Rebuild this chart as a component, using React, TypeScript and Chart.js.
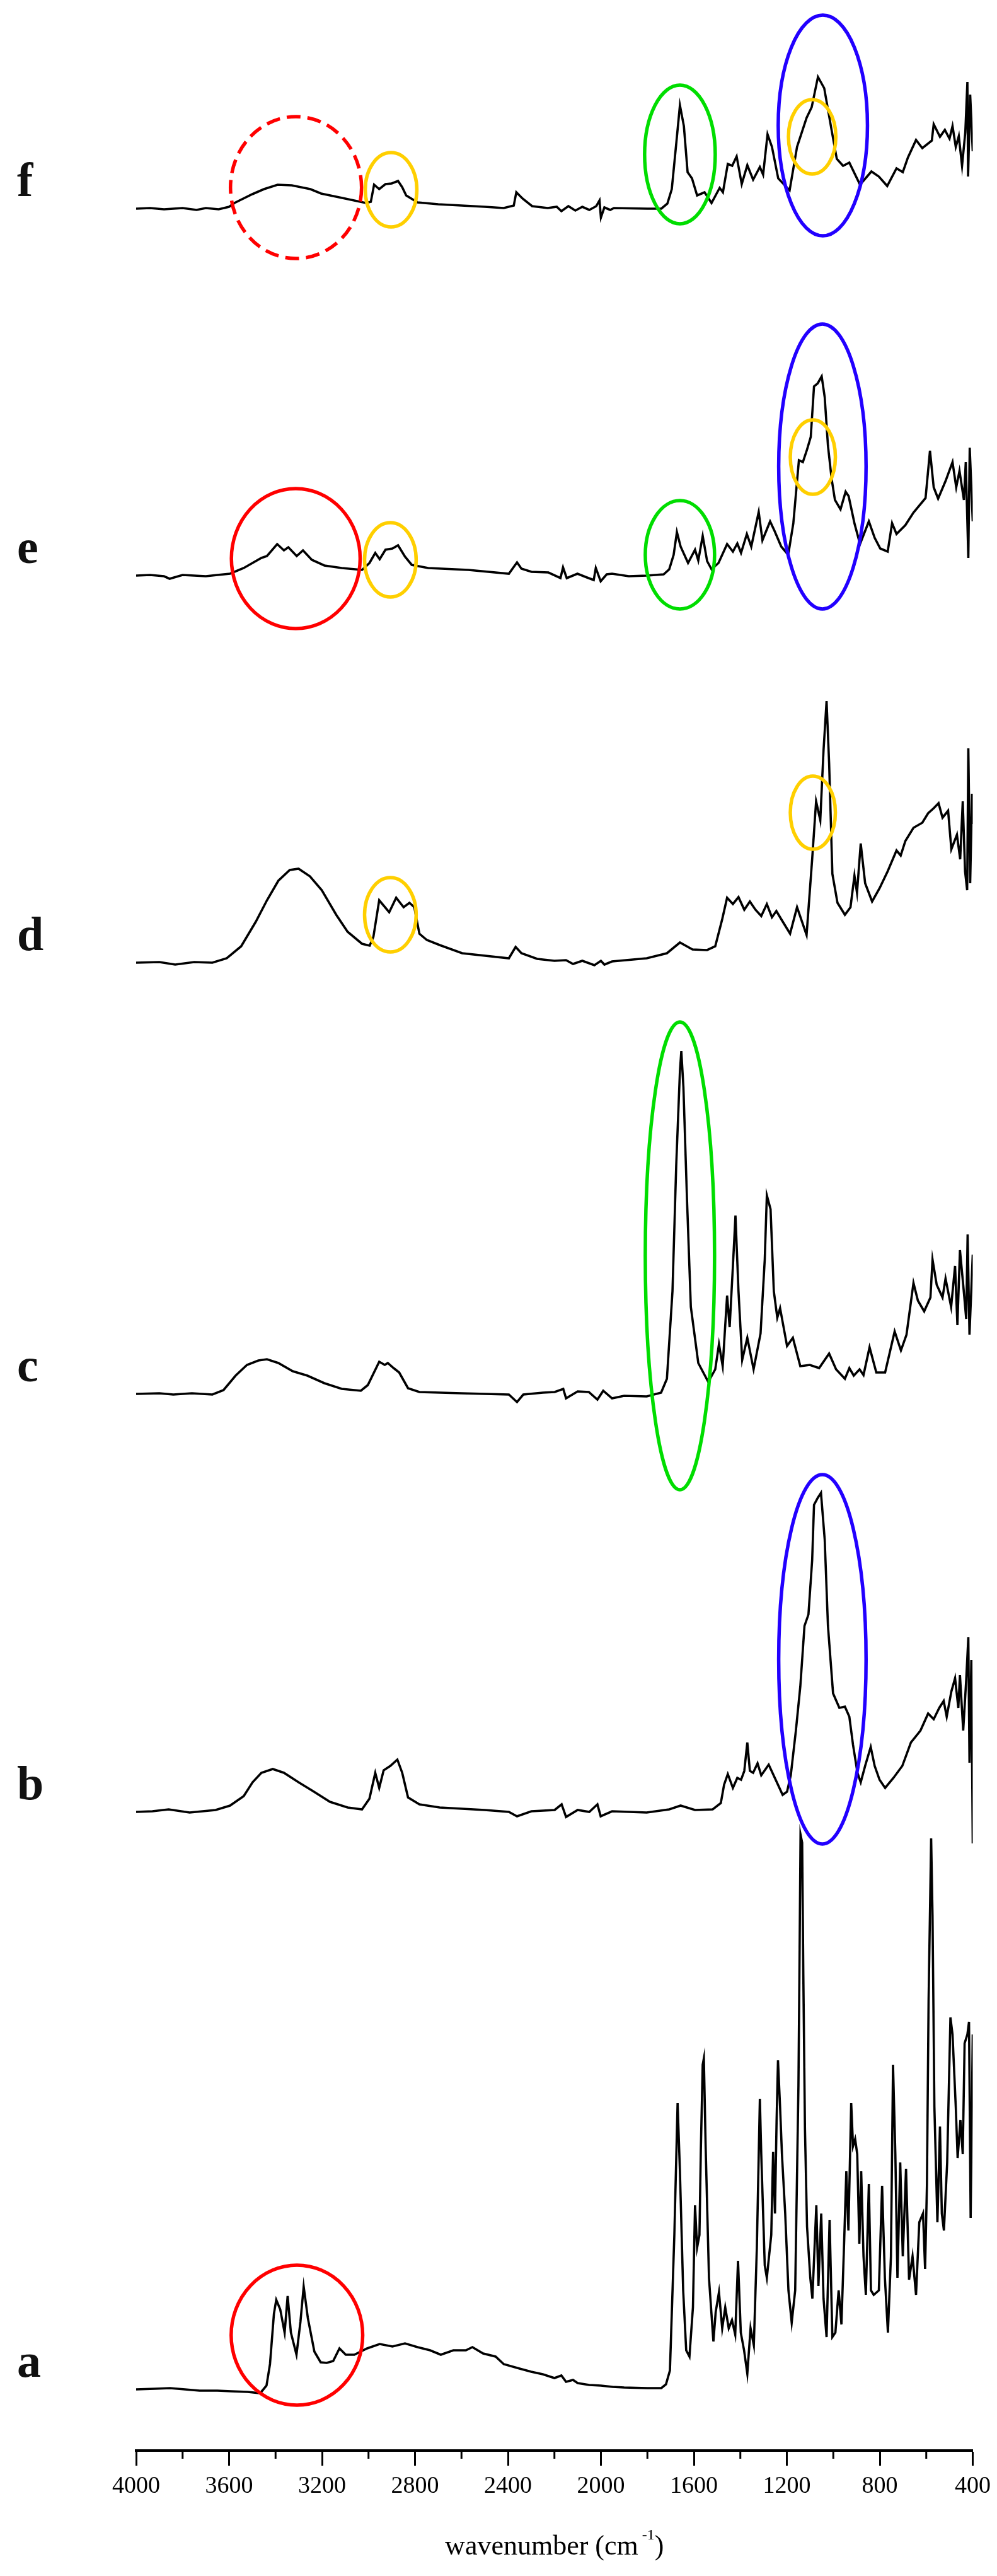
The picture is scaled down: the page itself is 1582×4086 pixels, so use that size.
import React, { useEffect, useRef } from 'react';
import { Chart, registerables } from 'chart.js';

Chart.register(...registerables);

const WIDTH = 1582;
const HEIGHT = 4086;

// ---- axis ----
const X_MIN = 400;
const X_MAX = 4000;
const X_STEP = 400;
const MINOR_TICKS = [3800, 3400, 3000, 2600, 2200, 1800, 1400, 1000, 600];
const X_TITLE_MAIN = 'wavenumber (cm';
const X_TITLE_SUP = '-1';
const X_TITLE_END = ')';
const Y_MAX = 38.87;

// ---- series (wavenumber, relative intensity) ----
const SERIES_LABELS = ['a', 'b', 'c', 'd', 'e', 'f'];
const SERIES_OFFSETS = [0.97, 10.13, 16.76, 23.6, 29.74, 35.56];
const LABEL_LIFT = 0.2;

const SPECTRUM_A: [number, number][] = [
  [4000, 0], [3920, 0.01], [3854, 0.02], [3790, 0], [3727, -0.02], [3650, -0.02], [3591, -0.03], [3520, -0.04],
  [3466, -0.06], [3439, 0.06], [3424, 0.4], [3407, 1.2], [3397, 1.42], [3380, 1.27], [3361, 0.9], [3348, 1.48],
  [3334, 0.9], [3310, 0.55], [3293, 1.07], [3279, 1.63], [3261, 1.13], [3233, 0.6], [3206, 0.43], [3180, 0.42],
  [3152, 0.45], [3125, 0.65], [3098, 0.55], [3061, 0.55], [3006, 0.65], [2952, 0.72], [2897, 0.68], [2843, 0.73],
  [2789, 0.67], [2735, 0.62], [2689, 0.55], [2635, 0.62], [2581, 0.62], [2553, 0.67], [2507, 0.57], [2453, 0.52],
  [2418, 0.4], [2350, 0.33], [2300, 0.28], [2250, 0.24], [2200, 0.18], [2170, 0.22], [2150, 0.12], [2120, 0.15],
  [2100, 0.1], [2050, 0.07], [2000, 0.06], [1950, 0.04], [1900, 0.03], [1800, 0.02], [1740, 0.02], [1720, 0.08],
  [1703, 0.3], [1684, 2.45], [1674, 3.94], [1670, 4.54], [1660, 3.46], [1646, 1.57], [1633, 0.62], [1619, 0.52],
  [1604, 1.3], [1595, 2.92], [1586, 2.25], [1576, 2.45], [1570, 3.8], [1562, 5.15], [1557, 5.25], [1549, 3.8],
  [1535, 1.77], [1516, 0.76], [1506, 1.23], [1492, 1.54], [1478, 0.97], [1465, 1.3], [1450, 0.97], [1436, 1.1],
  [1422, 0.87], [1410, 2.04], [1398, 0.9], [1384, 0.62], [1370, 0.25], [1356, 0.97], [1342, 0.7], [1329, 2.25],
  [1316, 4.61], [1310, 3.73], [1295, 1.97], [1286, 1.77], [1267, 2.45], [1259, 3.77], [1251, 2.79], [1244, 4.27],
  [1238, 5.22], [1229, 4.48], [1221, 3.73], [1207, 2.79], [1193, 1.57], [1179, 1.06], [1164, 1.57], [1150, 4.82],
  [1146, 6.51], [1141, 8.8], [1134, 8.67], [1129, 6.57], [1122, 4.14], [1113, 2.58], [1099, 1.77], [1090, 1.44],
  [1073, 2.92], [1064, 1.64], [1052, 2.79], [1042, 1.44], [1029, 0.83], [1016, 2.69], [1004, 0.83], [991, 0.9],
  [977, 1.57], [965, 1.03], [953, 2.38], [944, 3.46], [935, 2.52], [923, 4.54], [915, 3.86], [906, 3.97],
  [897, 3.73], [888, 2.31], [880, 3.46], [870, 2.11], [860, 1.5], [847, 3.26], [838, 1.57], [826, 1.5],
  [804, 1.57], [790, 3.23], [778, 1.77], [765, 0.9], [752, 2.11], [743, 5.15], [733, 3.73], [724, 1.77],
  [712, 3.6], [701, 2.11], [687, 3.5], [674, 1.74], [659, 2.11], [644, 1.5], [630, 2.65], [614, 2.79],
  [605, 1.91], [597, 3.26], [590, 6.17], [579, 8.74], [573, 7.52], [565, 4.48], [552, 2.65], [541, 4.17],
  [533, 2.79], [524, 2.52], [510, 3.6], [496, 5.9], [487, 5.63], [473, 4.48], [465, 3.67], [453, 4.27],
  [443, 3.73], [435, 5.49], [423, 5.63], [416, 5.83], [409, 2.72], [400, 5.63],
];

const SPECTRUM_B: [number, number][] = [
  [4000, 0], [3930, 0.01], [3860, 0.04], [3770, -0.01], [3658, 0.03], [3596, 0.1], [3537, 0.25], [3499, 0.47],
  [3461, 0.62], [3412, 0.68], [3364, 0.62], [3301, 0.47], [3239, 0.33], [3166, 0.16], [3090, 0.07], [3028, 0.04],
  [2996, 0.21], [2971, 0.62], [2954, 0.38], [2935, 0.66], [2906, 0.73], [2876, 0.83], [2855, 0.62], [2830, 0.23],
  [2781, 0.12], [2694, 0.07], [2500, 0.03], [2396, 0], [2361, -0.07], [2299, 0.01], [2199, 0.03], [2169, 0.12],
  [2150, -0.08], [2100, 0.03], [2050, 0], [2015, 0.12], [2001, -0.07], [1952, 0.01], [1803, -0.01], [1706, 0.04],
  [1657, 0.1], [1595, 0.03], [1519, 0.04], [1484, 0.14], [1470, 0.43], [1454, 0.6], [1432, 0.38], [1413, 0.54],
  [1397, 0.51], [1383, 0.65], [1370, 1.1], [1359, 0.65], [1345, 0.62], [1326, 0.77], [1310, 0.58], [1278, 0.75],
  [1248, 0.51], [1218, 0.27], [1199, 0.32], [1183, 0.58], [1161, 1.29], [1142, 1.99], [1124, 2.95], [1107, 3.13],
  [1091, 3.99], [1083, 4.87], [1067, 4.98], [1053, 5.06], [1037, 4.32], [1023, 2.95], [1001, 1.88], [974, 1.65],
  [950, 1.67], [931, 1.51], [915, 1.06], [896, 0.62], [882, 0.47], [863, 0.73], [839, 1.03], [822, 0.73],
  [801, 0.51], [777, 0.38], [741, 0.54], [703, 0.73], [666, 1.1], [625, 1.29], [592, 1.56], [568, 1.47],
  [544, 1.65], [525, 1.76], [512, 1.51], [492, 1.91], [476, 2.12], [462, 1.65], [455, 2.17], [441, 1.29],
  [428, 2.1], [419, 2.77], [414, 0.78], [406, 2.41], [400, -0.5],
];

const SPECTRUM_C: [number, number][] = [
  [4000, 0], [3900, 0.01], [3840, -0.01], [3760, 0.01], [3672, -0.01], [3624, 0.06], [3572, 0.29], [3523, 0.46],
  [3474, 0.53], [3437, 0.55], [3388, 0.49], [3326, 0.36], [3263, 0.29], [3190, 0.17], [3115, 0.08], [3033, 0.05],
  [3003, 0.14], [2954, 0.51], [2930, 0.46], [2917, 0.49], [2892, 0.41], [2868, 0.34], [2830, 0.09], [2781, 0.03],
  [2600, 0.01], [2396, -0.01], [2361, -0.13], [2334, -0.01], [2250, 0.02], [2199, 0.03], [2162, 0.08], [2150, -0.07],
  [2100, 0.04], [2052, 0.03], [2015, -0.09], [1990, 0.05], [1952, -0.07], [1900, -0.03], [1803, -0.04], [1741, 0.02],
  [1716, 0.24], [1692, 1.63], [1676, 3.62], [1660, 5.12], [1654, 5.44], [1645, 4.87], [1630, 3.13], [1613, 1.38],
  [1581, 0.49], [1538, 0.19], [1508, 0.39], [1492, 0.79], [1476, 0.44], [1457, 1.56], [1446, 1.06], [1432, 2.03],
  [1421, 2.83], [1408, 1.63], [1392, 0.54], [1370, 0.89], [1343, 0.39], [1313, 0.96], [1295, 2.13], [1286, 3.15],
  [1270, 2.93], [1256, 1.63], [1241, 1.21], [1229, 1.36], [1199, 0.76], [1174, 0.89], [1142, 0.44], [1101, 0.46],
  [1061, 0.41], [1018, 0.64], [988, 0.39], [950, 0.24], [931, 0.41], [912, 0.29], [887, 0.39], [870, 0.3],
  [844, 0.74], [815, 0.34], [777, 0.34], [736, 0.99], [709, 0.69], [685, 0.94], [655, 1.76], [636, 1.48],
  [609, 1.31], [582, 1.53], [573, 2.13], [555, 1.73], [530, 1.53], [517, 1.83], [493, 1.38], [476, 2.03],
  [466, 1.09], [455, 2.28], [441, 1.73], [428, 1.19], [422, 2.53], [414, 0.94], [400, 2.21],
];

const SPECTRUM_D: [number, number][] = [
  [4000, 0], [3900, 0.01], [3832, -0.03], [3750, 0.01], [3672, 0], [3610, 0.07], [3548, 0.26], [3485, 0.65],
  [3437, 0.99], [3388, 1.3], [3339, 1.47], [3301, 1.49], [3252, 1.37], [3201, 1.15], [3139, 0.76], [3090, 0.49],
  [3028, 0.3], [2995, 0.27], [2979, 0.41], [2954, 0.99], [2911, 0.8], [2881, 1.03], [2849, 0.88], [2824, 0.95],
  [2803, 0.88], [2781, 0.46], [2749, 0.36], [2694, 0.28], [2597, 0.15], [2396, 0.07], [2367, 0.25], [2342, 0.15],
  [2274, 0.06], [2200, 0.03], [2150, 0.04], [2120, -0.02], [2080, 0.03], [2050, -0.01], [2028, -0.04], [2000, 0.03],
  [1985, -0.03], [1952, 0.02], [1803, 0.07], [1716, 0.15], [1660, 0.32], [1606, 0.21], [1543, 0.2], [1508, 0.26],
  [1478, 0.69], [1457, 1.03], [1432, 0.93], [1408, 1.04], [1383, 0.84], [1359, 0.97], [1335, 0.84], [1310, 0.74],
  [1286, 0.93], [1264, 0.72], [1245, 0.82], [1224, 0.69], [1186, 0.46], [1156, 0.88], [1115, 0.44], [1091, 1.64],
  [1074, 2.56], [1056, 2.26], [1042, 3.37], [1029, 4.15], [1018, 3.17], [1004, 1.41], [982, 0.95], [950, 0.76],
  [926, 0.88], [909, 1.38], [898, 1.11], [882, 1.89], [863, 1.26], [833, 0.97], [801, 1.18], [766, 1.45],
  [728, 1.78], [710, 1.7], [690, 1.93], [655, 2.14], [617, 2.22], [592, 2.37], [568, 2.45], [547, 2.53],
  [530, 2.3], [506, 2.41], [492, 1.8], [468, 2.03], [454, 1.64], [443, 2.56], [433, 1.45], [424, 1.15],
  [419, 3.4], [411, 1.26], [403, 2.68], [400, 2.2],
];

const SPECTRUM_E: [number, number][] = [
  [4000, 0], [3940, 0.01], [3880, -0.01], [3856, -0.05], [3800, 0.01], [3700, -0.01], [3650, 0.01], [3596, 0.03],
  [3537, 0.12], [3461, 0.28], [3437, 0.31], [3393, 0.5], [3364, 0.4], [3345, 0.45], [3309, 0.31], [3282, 0.4],
  [3244, 0.25], [3190, 0.16], [3115, 0.12], [3028, 0.09], [2996, 0.2], [2971, 0.36], [2952, 0.26], [2927, 0.41],
  [2897, 0.43], [2873, 0.48], [2843, 0.3], [2814, 0.17], [2743, 0.12], [2570, 0.09], [2396, 0.03], [2361, 0.21],
  [2342, 0.11], [2299, 0.06], [2226, 0.05], [2174, -0.04], [2163, 0.13], [2147, -0.04], [2101, 0.03], [2060, -0.03],
  [2031, -0.07], [2022, 0.12], [2001, -0.09], [1975, 0.02], [1952, 0.03], [1880, -0.01], [1803, 0], [1730, 0.02],
  [1706, 0.1], [1687, 0.33], [1673, 0.69], [1657, 0.46], [1625, 0.2], [1595, 0.41], [1581, 0.24], [1562, 0.63],
  [1543, 0.23], [1524, 0.1], [1494, 0.2], [1457, 0.5], [1432, 0.38], [1413, 0.51], [1397, 0.36], [1372, 0.66],
  [1353, 0.46], [1321, 1.01], [1305, 0.56], [1272, 0.86], [1253, 0.71], [1224, 0.46], [1194, 0.33], [1172, 0.83],
  [1148, 1.83], [1131, 1.8], [1113, 2.0], [1097, 2.2], [1083, 3.0], [1067, 3.05], [1050, 3.16], [1037, 2.83],
  [1023, 2.06], [1007, 1.53], [993, 1.2], [969, 1.05], [947, 1.33], [934, 1.26], [909, 0.83], [885, 0.5],
  [847, 0.86], [822, 0.6], [798, 0.43], [766, 0.38], [747, 0.83], [728, 0.66], [690, 0.8], [655, 1.0],
  [603, 1.23], [584, 1.98], [568, 1.4], [549, 1.22], [517, 1.5], [487, 1.8], [471, 1.4], [457, 1.66],
  [438, 1.2], [430, 1.8], [419, 0.28], [413, 2.03], [400, 0.86],
];

const SPECTRUM_F: [number, number][] = [
  [4000, 0], [3940, 0.01], [3880, -0.01], [3800, 0.01], [3740, -0.02], [3700, 0.01], [3645, -0.01], [3600, 0.03],
  [3577, 0.09], [3500, 0.23], [3450, 0.31], [3391, 0.38], [3330, 0.37], [3250, 0.31], [3204, 0.24], [3100, 0.16],
  [3011, 0.09], [2990, 0.11], [2976, 0.38], [2954, 0.31], [2927, 0.39], [2900, 0.4], [2873, 0.44], [2855, 0.34],
  [2838, 0.21], [2789, 0.1], [2700, 0.07], [2500, 0.03], [2418, 0.01], [2375, 0.05], [2364, 0.26], [2337, 0.16],
  [2296, 0.04], [2229, 0.01], [2190, 0.03], [2170, -0.04], [2140, 0.04], [2110, -0.03], [2080, 0.03], [2050, -0.02],
  [2020, 0.04], [2006, 0.13], [2000, -0.14], [1985, 0.02], [1960, -0.02], [1944, 0.01], [1800, 0], [1740, 0],
  [1714, 0.08], [1695, 0.31], [1673, 1.14], [1660, 1.64], [1643, 1.31], [1627, 0.58], [1608, 0.48], [1586, 0.21],
  [1554, 0.26], [1524, 0.09], [1489, 0.33], [1475, 0.26], [1454, 0.71], [1435, 0.68], [1416, 0.83], [1394, 0.39],
  [1370, 0.69], [1345, 0.46], [1316, 0.66], [1302, 0.54], [1283, 1.18], [1264, 0.98], [1237, 0.48], [1188, 0.29],
  [1156, 0.98], [1115, 1.44], [1093, 1.61], [1066, 2.09], [1039, 1.91], [1007, 1.24], [985, 0.79], [958, 0.68],
  [931, 0.73], [885, 0.38], [836, 0.59], [804, 0.51], [768, 0.36], [728, 0.64], [701, 0.58], [679, 0.81],
  [644, 1.09], [617, 0.96], [576, 1.08], [568, 1.34], [541, 1.14], [520, 1.25], [500, 1.11], [487, 1.31],
  [473, 0.98], [460, 1.15], [446, 0.68], [432, 1.21], [423, 2.01], [420, 0.51], [411, 1.81], [400, 0.91],
];

const SPECTRA = [SPECTRUM_A, SPECTRUM_B, SPECTRUM_C, SPECTRUM_D, SPECTRUM_E, SPECTRUM_F];

// ---- highlight ellipses (series, centre wavenumber, centre intensity, radii) ----
const RED = '#ff0000';
const YELLOW = '#ffcf00';
const GREEN = '#00dd00';
const BLUE = '#2200ff';

const ELLIPSE_SERIES = ['f', 'f', 'f', 'f', 'f', 'e', 'e', 'e', 'e', 'e', 'd', 'd', 'c', 'b', 'a'];
const ELLIPSE_WN = [3312, 2903, 1660, 1045, 1091, 3313, 2906, 1660, 1047, 1088, 2906, 1088, 1660, 1047, 3308];
const ELLIPSE_VAL = [0.335, 0.3, 0.86, 1.32, 1.14, 0.27, 0.25, 0.33, 1.73, 1.88, 0.76, 2.38, 2.19, 2.42, 0.86];
const ELLIPSE_RX = [282, 111, 152, 192, 102, 277, 111, 149, 188, 97, 111, 97, 149, 188, 283];
const ELLIPSE_RY = [1.125, 0.59, 1.1, 1.75, 0.59, 1.11, 0.59, 0.86, 2.26, 0.59, 0.59, 0.58, 3.71, 2.93, 1.11];
const ELLIPSE_COLOR = [RED, YELLOW, GREEN, BLUE, YELLOW, RED, YELLOW, GREEN, BLUE, YELLOW, YELLOW, YELLOW, GREEN, BLUE, RED];
const ELLIPSE_DASHED = [true, false, false, false, false, false, false, false, false, false, false, false, false, false, false];

const SERIF = '"Liberation Serif", "Times New Roman", serif';

const overlayPlugin = {
  id: 'ftirOverlay',
  afterDatasetsDraw(chart: any) {
    const ctx = chart.ctx as CanvasRenderingContext2D;
    const xs = chart.scales.x;
    const ys = chart.scales.y;
    ctx.save();
    for (let i = 0; i < ELLIPSE_WN.length; i++) {
      const si = SERIES_LABELS.indexOf(ELLIPSE_SERIES[i]);
      const off = SERIES_OFFSETS[si];
      const cx = xs.getPixelForValue(ELLIPSE_WN[i]);
      const cy = ys.getPixelForValue(off + ELLIPSE_VAL[i]);
      const rx = Math.abs(xs.getPixelForValue(ELLIPSE_WN[i] + ELLIPSE_RX[i]) - cx);
      const ry = Math.abs(ys.getPixelForValue(off + ELLIPSE_VAL[i] + ELLIPSE_RY[i]) - cy);
      ctx.beginPath();
      ctx.ellipse(cx, cy, rx, ry, 0, 0, Math.PI * 2);
      ctx.strokeStyle = ELLIPSE_COLOR[i];
      ctx.lineWidth = 5.5;
      ctx.setLineDash(ELLIPSE_DASHED[i] ? [22, 11] : []);
      ctx.stroke();
    }
    ctx.setLineDash([]);
    ctx.restore();
  },
  afterDraw(chart: any) {
    const ctx = chart.ctx as CanvasRenderingContext2D;
    const xs = chart.scales.x;
    const ys = chart.scales.y;
    const area = chart.chartArea;
    ctx.save();
    // minor ticks
    ctx.strokeStyle = '#000';
    ctx.lineWidth = 3;
    for (const v of MINOR_TICKS) {
      const x = xs.getPixelForValue(v);
      ctx.beginPath();
      ctx.moveTo(x, area.bottom + 1);
      ctx.lineTo(x, area.bottom + 13);
      ctx.stroke();
    }
    // series letters
    ctx.fillStyle = '#111';
    ctx.font = `bold 76px ${SERIF}`;
    ctx.textAlign = 'left';
    ctx.textBaseline = 'alphabetic';
    for (let i = 0; i < SERIES_LABELS.length; i++) {
      const y = ys.getPixelForValue(SERIES_OFFSETS[i] + LABEL_LIFT);
      ctx.fillText(SERIES_LABELS[i], 27, y);
    }
    // axis title with superscript
    ctx.fillStyle = '#000';
    const mainFont = `44px ${SERIF}`;
    const supFont = `24px ${SERIF}`;
    ctx.font = mainFont;
    const wMain = ctx.measureText(X_TITLE_MAIN).width;
    const wEnd = ctx.measureText(X_TITLE_END).width;
    ctx.font = supFont;
    const wSup = ctx.measureText(X_TITLE_SUP).width;
    const gap = 6;
    const total = wMain + gap + wSup + wEnd;
    const cx = (area.left + area.right) / 2;
    const baseY = xs.bottom - 34;
    let x = cx - total / 2;
    ctx.font = mainFont;
    ctx.fillText(X_TITLE_MAIN, x, baseY);
    x += wMain + gap;
    ctx.font = supFont;
    ctx.fillText(X_TITLE_SUP, x, baseY - 24);
    x += wSup;
    ctx.font = mainFont;
    ctx.fillText(X_TITLE_END, x, baseY);
    ctx.restore();
  },
};

export default function App() {
  const ref = useRef<HTMLCanvasElement | null>(null);

  useEffect(() => {
    document.body.style.margin = '0';
    const canvas = ref.current;
    if (!canvas) return;
    const datasets = SPECTRA.map((pts, i) => ({
      label: SERIES_LABELS[i],
      data: pts.map(([wn, v]) => ({ x: wn, y: SERIES_OFFSETS[i] + v })),
      borderColor: '#000',
      borderWidth: 3.6,
      pointRadius: 0,
      fill: false,
      tension: 0,
    }));
    const chart = new Chart(canvas, {
      type: 'line',
      data: { datasets },
      options: {
        animation: false,
        responsive: false,
        maintainAspectRatio: false,
        devicePixelRatio: 1,
        layout: { padding: { left: 216, right: 37, top: 0, bottom: 0 } },
        plugins: { legend: { display: false }, tooltip: { enabled: false } },
        scales: {
          x: {
            type: 'linear',
            reverse: true,
            min: X_MIN,
            max: X_MAX,
            ticks: {
              stepSize: X_STEP,
              color: '#000',
              padding: 10,
              maxRotation: 0,
              autoSkip: false,
              font: { family: SERIF, size: 38 },
              callback: (v: any) => String(v),
            },
            grid: {
              display: true,
              drawOnChartArea: false,
              drawTicks: true,
              tickLength: 24,
              tickWidth: 3,
              tickColor: '#000',
            },
            border: { display: true, color: '#000', width: 4 },
            afterFit: (scale: any) => {
              scale.height = HEIGHT - 3887;
            },
          },
          y: { display: false, min: 0, max: Y_MAX },
        },
      } as any,
      plugins: [overlayPlugin],
    });
    return () => chart.destroy();
  }, []);

  return (
    <div style={{ width: WIDTH, height: HEIGHT, background: '#fff' }}>
      <canvas ref={ref} width={WIDTH} height={HEIGHT} style={{ display: 'block', width: WIDTH, height: HEIGHT }} />
    </div>
  );
}
